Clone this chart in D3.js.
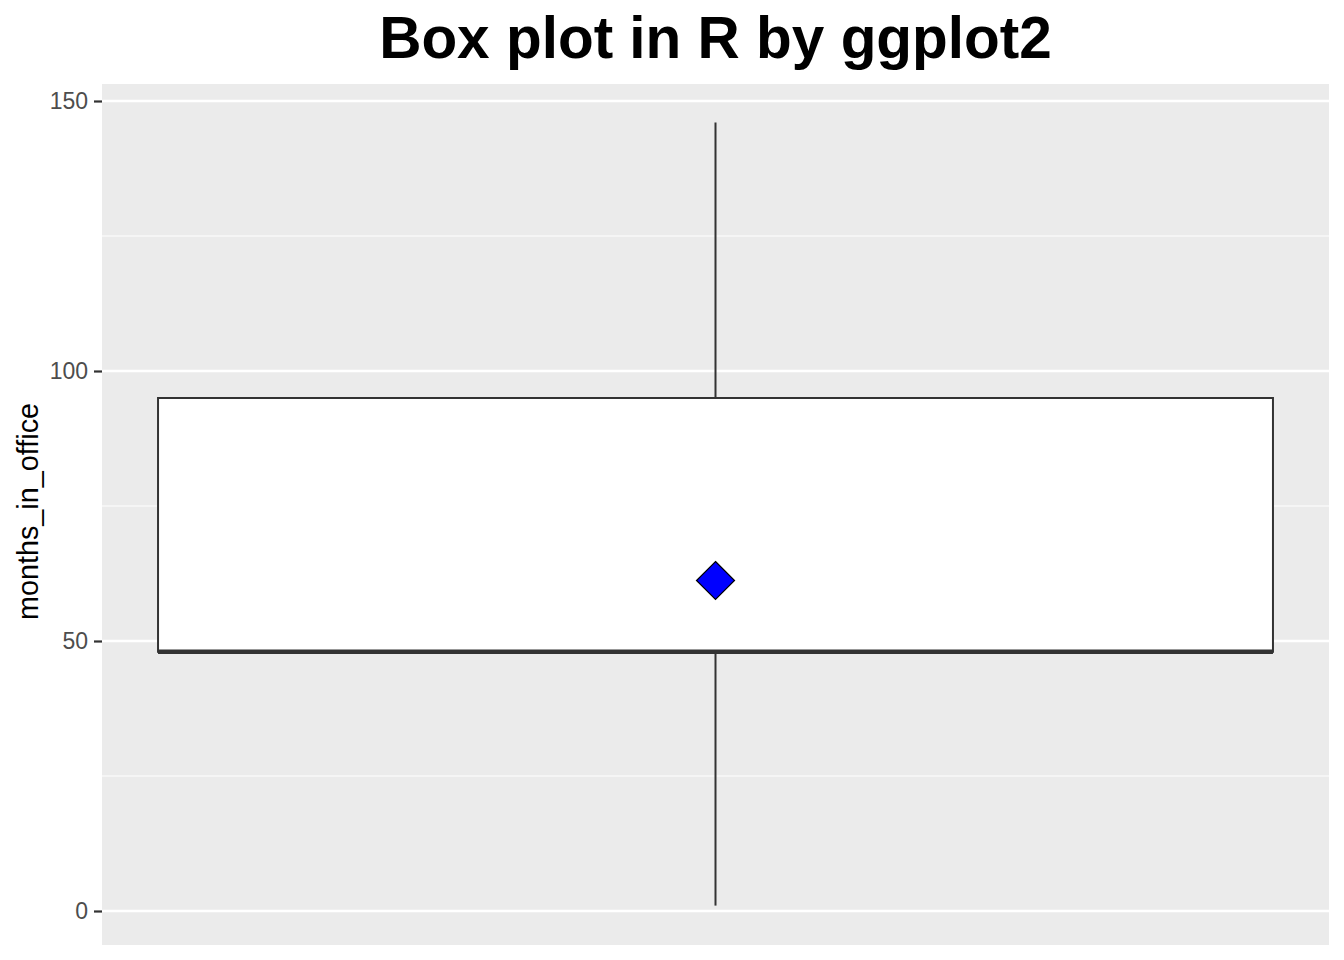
<!DOCTYPE html>
<html><head><meta charset="utf-8">
<script src="https://cdn.jsdelivr.net/npm/d3@7"></script>
<style>body{margin:0;background:#fff}svg{display:block}</style>
</head><body>
<script>
// Data (box plot statistics)
const title = "Box plot in R by ggplot2";
const yLabel = "months_in_office";
const yTicks = [0, 50, 100, 150];
const yMinorTicks = [25, 75, 125];
const boxStats = [{min: 1, q1: 48, median: 48, q3: 95, max: 146, mean: 61.2}];

const W = 1344, H = 960;
const panel = {left: 102, right: 1329, top: 84, bottom: 945};

const svg = d3.select("body").append("svg").attr("width", W).attr("height", H);

const y = d3.scaleLinear().domain([0, 150]).range([911, 101]);
const x = d3.scaleLinear().domain([0.4, 1.6]).range([panel.left, panel.right]);
const boxHalf = 0.5452;

// panel
svg.append("rect").attr("x", panel.left).attr("y", panel.top)
  .attr("width", panel.right - panel.left).attr("height", panel.bottom - panel.top)
  .attr("fill", "#EBEBEB");

// minor grid
svg.selectAll(".minor").data(yMinorTicks).enter().append("line")
  .attr("x1", panel.left).attr("x2", panel.right)
  .attr("y1", d => y(d)).attr("y2", d => y(d))
  .attr("stroke", "#fff").attr("stroke-width", 1.2);
// major grid
svg.selectAll(".major").data(yTicks).enter().append("line")
  .attr("x1", panel.left).attr("x2", panel.right)
  .attr("y1", d => y(d)).attr("y2", d => y(d))
  .attr("stroke", "#fff").attr("stroke-width", 2.4);

// y axis
const yAxis = d3.axisLeft(y).tickValues(yTicks).tickSize(8).tickPadding(6);
const ga = svg.append("g").attr("transform", `translate(${panel.left},0)`).call(yAxis);
ga.select(".domain").remove();
ga.selectAll(".tick line").attr("stroke", "#333").attr("stroke-width", 2.2);
ga.selectAll(".tick text").attr("fill", "#4D4D4D")
  .style("font-family", "'Liberation Sans', Arial, sans-serif").style("font-size", "23px");

// y label
svg.append("text").attr("transform", `translate(38,${(panel.top + panel.bottom) / 2 - 3}) rotate(-90)`)
  .attr("text-anchor", "middle")
  .style("font-family", "'Liberation Sans', Arial, sans-serif").style("font-size", "28.8px")
  .attr("fill", "#000").text(yLabel);

// title
svg.append("text").attr("x", (panel.left + panel.right) / 2).attr("y", 58)
  .attr("text-anchor", "middle")
  .style("font-family", "'Liberation Sans', Arial, sans-serif").style("font-weight", "bold")
  .style("font-size", "58.5px").attr("fill", "#000").text(title);

const g = svg.append("g");
boxStats.forEach((d, i) => {
  const cx = x(1 + i);
  const x0 = x(1 + i - boxHalf), x1 = x(1 + i + boxHalf);
  // whiskers
  g.append("line").attr("x1", cx).attr("x2", cx).attr("y1", y(d.q3)).attr("y2", y(d.max))
    .attr("stroke", "#333").attr("stroke-width", 2);
  g.append("line").attr("x1", cx).attr("x2", cx).attr("y1", y(d.q1)).attr("y2", y(d.min))
    .attr("stroke", "#333").attr("stroke-width", 2);
  // box
  g.append("rect").attr("x", x0).attr("y", y(d.q3)).attr("width", x1 - x0)
    .attr("height", y(d.q1) - y(d.q3)).attr("fill", "#fff")
    .attr("stroke", "#333").attr("stroke-width", 2);
  // median
  g.append("line").attr("x1", x0).attr("x2", x1).attr("y1", y(d.median)).attr("y2", y(d.median))
    .attr("stroke", "#333").attr("stroke-width", 4.5);
  // mean diamond
  const r = 19, my = y(d.mean);
  g.append("path").attr("d", `M${cx},${my - r}L${cx + r},${my}L${cx},${my + r}L${cx - r},${my}Z`)
    .attr("fill", "#0000FF").attr("stroke", "#000").attr("stroke-width", 1.2);
});
</script>
</body></html>
